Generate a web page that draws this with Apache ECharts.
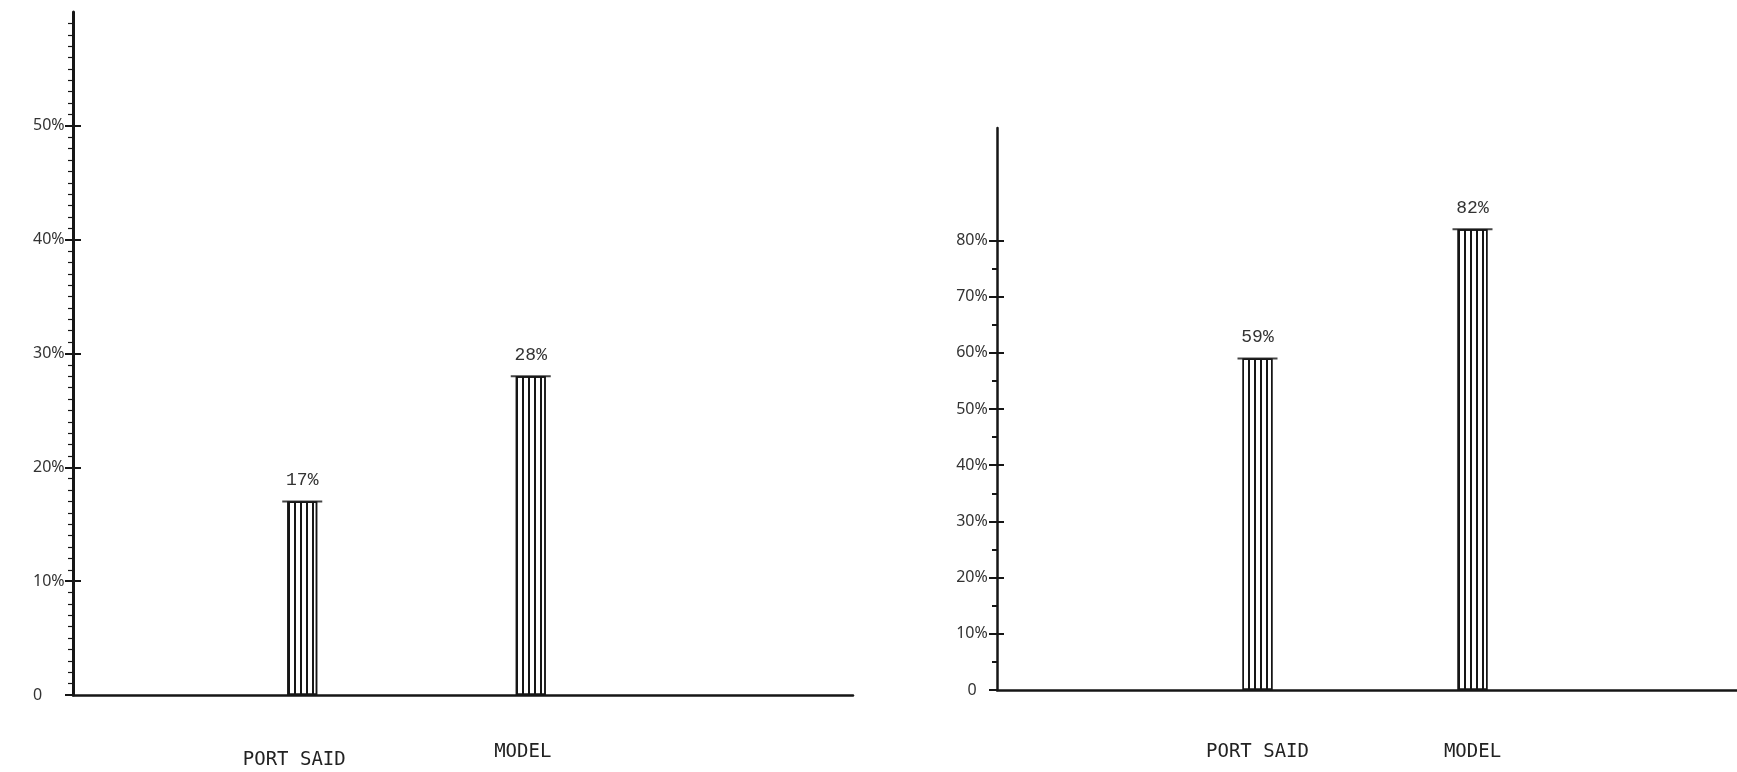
<!DOCTYPE html>
<html>
<head>
<meta charset="utf-8">
<script src="https://cdn.jsdelivr.net/npm/echarts@6/dist/echarts.min.js"></script>
<style>
html, body { margin: 0; background: #fff; }
#main { width: 1737px; height: 772px; }
</style>
</head>
<body>
<div id="main"></div>
<script>
// values
var categories = ['PORT SAID', 'MODEL'];
var leftValues = [17, 28];
var rightValues = [59, 82];

// tick labels / tick positions
var leftLabels = [0, 10, 20, 30, 40, 50];
var leftInner = [10, 20, 30, 40, 50];
var rightLabels = [0, 10, 20, 30, 40, 50, 60, 70, 80];
var rightInner = [10, 20, 30, 40, 50, 60, 70, 80];
var rightMinor = [5, 15, 25, 35, 45, 55, 65, 75];

var ink = '#161616';
var pctFmt = function (v) { return v === 0 ? '0' : v + '%'; };

var hatch = {
    symbol: 'rect',
    symbolSize: 1,
    color: ink,
    dashArrayX: [1.4, 3.4],
    dashArrayY: [20, 0],
    rotation: 0
};

function frameX(grid) {
    return {
        gridIndex: grid, type: 'value', min: 0, max: 1,
        axisLine: { show: true, lineStyle: { color: ink, width: 2.5 } },
        axisTick: { show: false }, axisLabel: { show: false }, splitLine: { show: false }
    };
}
function barX(grid, margin, pads) {
    return {
        gridIndex: grid, type: 'category',
        data: categories.map(function (c, i) {
            return { value: c, textStyle: { padding: pads[i] } };
        }),
        axisLine: { show: false }, axisTick: { show: false }, splitLine: { show: false },
        axisLabel: {
            margin: margin, color: '#222', fontFamily: 'DejaVu Sans Mono', fontSize: 19
        }
    };
}
function hiddenY(grid, max) {
    return { gridIndex: grid, type: 'value', position: 'left', min: 0, max: max, show: false, splitLine: { show: false } };
}
function tickY(grid, max, vals, len, inside) {
    return {
        gridIndex: grid, type: 'value', position: 'left', min: 0, max: max, interval: 10,
        axisLine: { show: false },
        axisTick: { show: true, inside: inside, length: len, customValues: vals, lineStyle: { color: ink, width: 2 } },
        axisLabel: { show: false }, splitLine: { show: false }
    };
}

function bars(xi, yi, vals) {
    return [{
        type: 'bar', xAxisIndex: xi, yAxisIndex: yi, data: vals,
        barWidth: 30, silent: true,
        itemStyle: { color: '#fff', borderColor: ink, borderWidth: 1.5, decal: hatch },
        label: {
            show: true, position: 'top', distance: 12,
            formatter: '{c}%', color: '#333',
            fontFamily: 'Liberation Mono', fontSize: 18
        }
    }, {
        type: 'scatter', xAxisIndex: xi, yAxisIndex: yi, data: vals,
        symbol: 'rect', symbolSize: [40, 2], silent: true,
        itemStyle: { color: ink }
    }];
}

var myChart = echarts.init(document.getElementById('main'));
var option = {
    backgroundColor: '#fff',
    animation: false,
    grid: [
        { left: 73, right: 884, top: 12, bottom: 77 },
        { left: 188, width: 457, top: 12, bottom: 77 },
        { left: 997, right: 0, top: 128, bottom: 82 },
        { left: 1150, width: 430, top: 128, bottom: 82 }
    ],
    xAxis: [
        frameX(0),
        barX(1, 48, [[8, 16, 0, 0], [0, 16, 0, 0]]),
        frameX(2),
        barX(3, 53, [[0, 0, 0, 0], [0, 0, 0, 0]])
    ],
    yAxis: [
        {
            gridIndex: 0, type: 'value', position: 'left', min: 0, max: 60, interval: 10,
            axisLine: { show: true, lineStyle: { color: ink, width: 3 } },
            axisTick: { show: true, length: 8, customValues: leftLabels, lineStyle: { color: ink, width: 2 } },
            minorTick: { show: true, splitNumber: 10, length: 5, lineStyle: { color: ink, width: 1.2 } },
            axisLabel: {
                customValues: leftLabels, formatter: pctFmt, align: 'left', margin: 40,
                color: '#333', fontFamily: 'Noto Sans', fontSize: 16
            },
            splitLine: { show: false }
        },
        tickY(0, 60, leftInner, 8, true),
        hiddenY(1, 60),
        {
            gridIndex: 2, type: 'value', position: 'left', min: 0, max: 100, interval: 10,
            axisLine: { show: true, lineStyle: { color: ink, width: 2.5 } },
            axisTick: { show: true, length: 8, customValues: rightLabels, lineStyle: { color: ink, width: 2 } },
            axisLabel: {
                customValues: rightLabels, formatter: pctFmt, align: 'center', margin: 25,
                color: '#333', fontFamily: 'Noto Sans', fontSize: 16
            },
            splitLine: { show: false }
        },
        tickY(2, 100, rightInner, 7, true),
        tickY(2, 100, rightMinor, 5, false),
        hiddenY(3, 100)
    ],
    series: bars(1, 2, leftValues).concat(bars(3, 6, rightValues))
};
myChart.setOption(option);
</script>
</body>
</html>
